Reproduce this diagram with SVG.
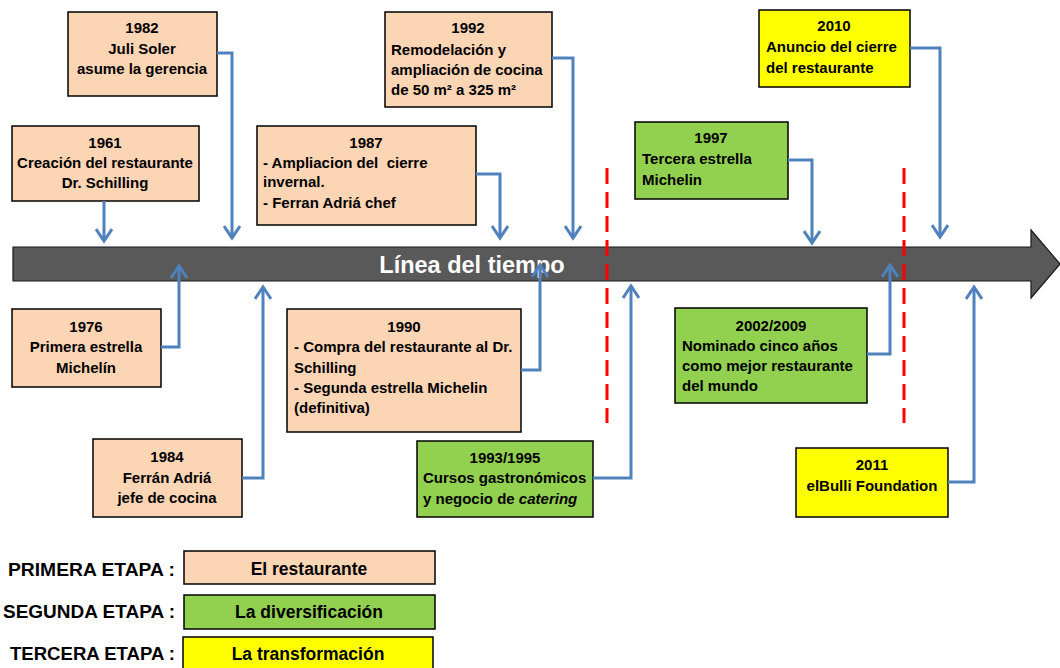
<svg xmlns="http://www.w3.org/2000/svg" width="1060" height="668" viewBox="0 0 1060 668">
<style>
text{font-family:"Liberation Sans",Arial,sans-serif;font-weight:bold;font-size:15px;fill:#000}
.c{text-anchor:middle}
.box{stroke:#000;stroke-width:1.5}
.p1{fill:#FCD5B5}
.p2{fill:#92D050}
.p3{fill:#FFFF00}
.con{fill:none;stroke:#4F81BD;stroke-width:3;marker-end:url(#ah)}
.sep{stroke:#FF0000;stroke-width:3;stroke-dasharray:16 8}
.lg{font-size:18.5px;text-anchor:end}
.lt{font-size:17.5px;text-anchor:middle}
</style>
<defs>
<marker id="ah" markerUnits="userSpaceOnUse" viewBox="0 0 16 18" refX="13" refY="9" markerWidth="16" markerHeight="18" orient="auto">
<path d="M1,1 L13,9 L1,17" fill="none" stroke="#4F81BD" stroke-width="3"/>
</marker>
</defs>
<rect width="1060" height="668" fill="#fff"/>
<g id="timeline">
<polygon points="13,247 1031,247 1031,230 1060,264 1031,298 1031,281 13,281" fill="#595959" stroke="#1a1a1a" stroke-width="1.2"/>
<text x="472" y="273" class="c" style="font-size:23.5px;fill:#fff">Línea del tiempo</text>
</g>
<g id="separators">
<line class="sep" x1="607" y1="168" x2="607" y2="423"/>
<line class="sep" x1="904" y1="168" x2="904" y2="423"/>
</g>
<g id="n1961">
<rect class="box p1" x="12" y="126" width="187" height="75"/>
<text class="c" x="105" y="148">1961</text>
<text class="c" x="105" y="168">Creación del restaurante</text>
<text class="c" x="105" y="188">Dr. Schilling</text>
</g>
<g id="n1982">
<rect class="box p1" x="68" y="12" width="149" height="84"/>
<text class="c" x="142" y="33">1982</text>
<text class="c" x="142" y="54">Juli Soler</text>
<text class="c" x="142" y="74">asume la gerencia</text>
</g>
<g id="n1987">
<rect class="box p1" x="257" y="126" width="219" height="99"/>
<text class="c" x="366" y="148">1987</text>
<text x="263" y="168" xml:space="preserve">- Ampliacion del  cierre</text>
<text x="263" y="187">invernal.</text>
<text x="263" y="208">- Ferran Adriá chef</text>
</g>
<g id="n1992">
<rect class="box p1" x="385" y="12" width="167" height="95"/>
<text class="c" x="468" y="33">1992</text>
<text x="391" y="55">Remodelación y</text>
<text x="391" y="75">ampliación de cocina</text>
<text x="391" y="95">de 50 m² a 325 m²</text>
</g>
<g id="n1997">
<rect class="box p2" x="635" y="122" width="153" height="77"/>
<text class="c" x="711" y="143">1997</text>
<text x="642" y="164">Tercera estrella</text>
<text x="642" y="185">Michelin</text>
</g>
<g id="n2010">
<rect class="box p3" x="759" y="10" width="151" height="77"/>
<text class="c" x="834" y="31">2010</text>
<text x="766" y="52">Anuncio del cierre</text>
<text x="766" y="73">del restaurante</text>
</g>
<g id="n1976">
<rect class="box p1" x="12" y="309" width="149" height="78"/>
<text class="c" x="86" y="332">1976</text>
<text class="c" x="86" y="352">Primera estrella</text>
<text class="c" x="86" y="373">Michelín</text>
</g>
<g id="n1984">
<rect class="box p1" x="93" y="439" width="149" height="78"/>
<text class="c" x="167" y="462">1984</text>
<text class="c" x="167" y="483">Ferrán Adriá</text>
<text class="c" x="167" y="503">jefe de cocina</text>
</g>
<g id="n1990">
<rect class="box p1" x="287" y="309" width="234" height="123"/>
<text class="c" x="404" y="332">1990</text>
<text x="294" y="352">- Compra del restaurante al Dr.</text>
<text x="294" y="373">Schilling</text>
<text x="294" y="393">- Segunda estrella Michelin</text>
<text x="294" y="413">(definitiva)</text>
</g>
<g id="n1993">
<rect class="box p2" x="417" y="441" width="176" height="76"/>
<text class="c" x="505" y="463">1993/1995</text>
<text x="423" y="483">Cursos gastronómicos</text>
<text x="423" y="504">y negocio de <tspan font-style="italic">catering</tspan></text>
</g>
<g id="n2002">
<rect class="box p2" x="675" y="308" width="192" height="95"/>
<text class="c" x="771" y="331">2002/2009</text>
<text x="682" y="351">Nominado cinco años</text>
<text x="682" y="371">como mejor restaurante</text>
<text x="682" y="391">del mundo</text>
</g>
<g id="n2011">
<rect class="box p3" x="796" y="448" width="152" height="69"/>
<text class="c" x="872" y="470">2011</text>
<text class="c" x="872" y="491">elBulli Foundation</text>
</g>
<g id="connectors">
<path class="con" d="M104,201 V241"/>
<path class="con" d="M217,53 H232 V238"/>
<path class="con" d="M476,174 H500 V238"/>
<path class="con" d="M552,58 H573 V238"/>
<path class="con" d="M788,160 H812 V243"/>
<path class="con" d="M910,48 H940 V237"/>
<path class="con" d="M161,347 H179 V266"/>
<path class="con" d="M242,478 H263 V287"/>
<path class="con" d="M521,370 H540 V265"/>
<path class="con" d="M593,478 H631 V286"/>
<path class="con" d="M867,354 H890 V265"/>
<path class="con" d="M948,482 H974 V287"/>
</g>
<g id="legend">
<text class="lg" x="175" y="576" textLength="167" lengthAdjust="spacingAndGlyphs">PRIMERA ETAPA :</text>
<text class="lg" x="175" y="618" textLength="172" lengthAdjust="spacingAndGlyphs">SEGUNDA ETAPA :</text>
<text class="lg" x="175" y="660" textLength="165" lengthAdjust="spacingAndGlyphs">TERCERA ETAPA :</text>
<g id="leg1">
<rect class="box p1" x="184" y="551" width="251" height="33"/>
<text class="lt" x="309" y="575">El restaurante</text>
</g>
<g id="leg2">
<rect class="box p2" x="184" y="595" width="251" height="34"/>
<text class="lt" x="309" y="618">La diversificación</text>
</g>
<g id="leg3">
<rect class="box p3" x="183" y="637" width="250" height="34"/>
<text class="lt" x="308" y="660">La transformación</text>
</g>
</g>
</svg>
